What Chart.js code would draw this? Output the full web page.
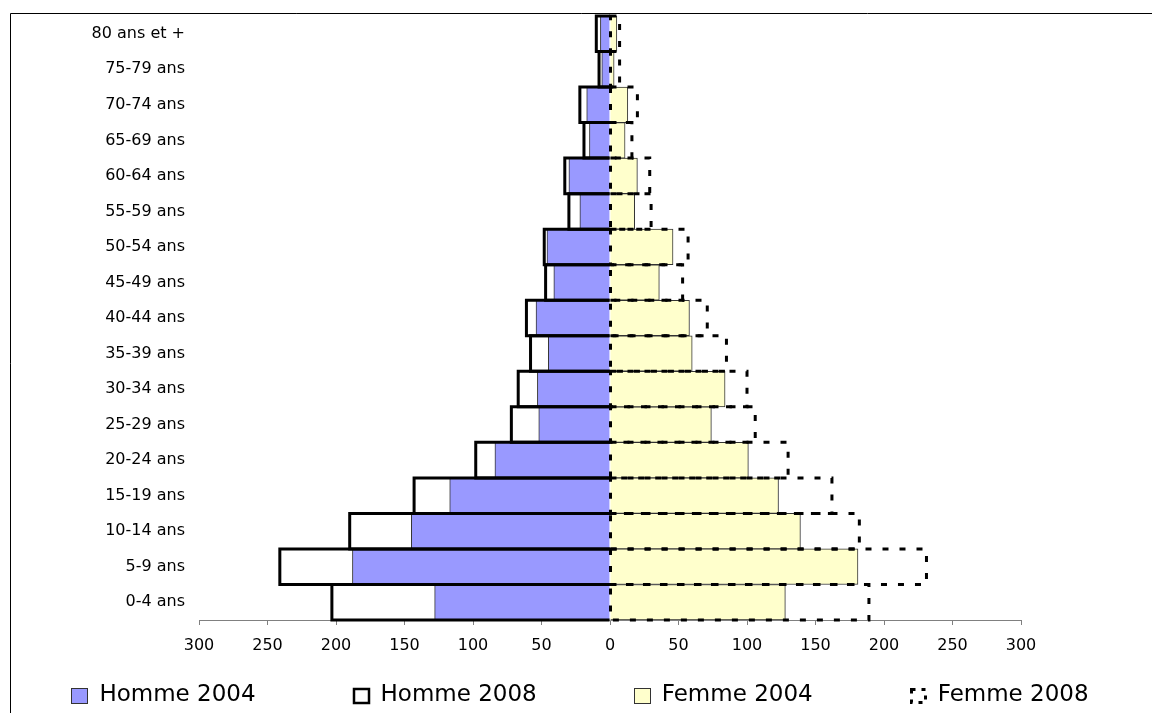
<!DOCTYPE html>
<html>
<head>
<meta charset="utf-8">
<script src="https://cdn.jsdelivr.net/npm/chart.js@4/dist/chart.umd.min.js"></script>
<style>
html,body{margin:0;padding:0;background:#fff;}
#wrap{width:1152px;height:713px;position:relative;}
</style>
</head>
<body>
<div id="wrap"><canvas id="c" width="1152" height="713"></canvas></div>
<script>
// ---- Data ----
const categories = ['0-4 ans','5-9 ans','10-14 ans','15-19 ans','20-24 ans','25-29 ans','30-34 ans','35-39 ans','40-44 ans','45-49 ans','50-54 ans','55-59 ans','60-64 ans','65-69 ans','70-74 ans','75-79 ans','80 ans et +'];
const homme2004 = [-128,-188,-145,-117,-84,-52,-53,-45,-54,-41,-46,-22,-30,-15,-17,-6,-7];
const homme2008 = [-203,-241,-190,-143,-98,-72,-67,-58,-61,-47,-48,-30,-33,-19,-22,-8,-10];
const femme2004 = [128,181,139,123,101,74,84,60,58,36,46,18,20,11,13,3,5];
const femme2008 = [189,231,182,162,130,106,100,85,71,53,57,30,29,16,20,7,7];
const seriesLabels = ['Homme 2004','Homme 2008','Femme 2004','Femme 2008'];
const xMin = -300, xMax = 300, xStep = 50;

const FONT = 'DejaVu Sans';

// styles for outlined (2008) series, drawn on top through the bar elements
const outlineStyles = {
  1: {color:'#000', width:3, dash:[], skipBase:true},
  3: {color:'#000', width:3, dash:[6,11], skipBase:false}
};

const outlinePlugin = {
  id:'outlines',
  afterDatasetsDraw(chart){
    const ctx = chart.ctx;
    Object.keys(outlineStyles).forEach(k => {
      const i = +k, st = outlineStyles[k];
      const meta = chart.getDatasetMeta(i);
      ctx.save();
      ctx.strokeStyle = st.color;
      ctx.lineWidth = st.width;
      ctx.setLineDash(st.dash);
      ctx.lineCap = 'butt';
      meta.data.forEach(el => {
        const p = el.getProps(['x','y','base','height'], true);
        const top = p.y - p.height/2, bot = p.y + p.height/2;
        ctx.beginPath();
        ctx.moveTo(p.base, top); ctx.lineTo(p.x, top); ctx.lineTo(p.x, bot); ctx.lineTo(p.base, bot);
        if (!st.skipBase) ctx.closePath();
        ctx.stroke();
      });
      ctx.restore();
    });
  }
};

const framePlugin = {
  id:'frame',
  beforeDraw(chart){
    const ctx = chart.ctx;
    ctx.save();
    ctx.fillStyle = '#fff';
    ctx.fillRect(0,0,chart.width,chart.height);
    ctx.strokeStyle = '#000';
    ctx.lineWidth = 1;
    ctx.beginPath();
    ctx.moveTo(10.5, chart.height + 2);
    ctx.lineTo(10.5, 13.5);
    ctx.lineTo(chart.width + 2, 13.5);
    ctx.stroke();
    ctx.restore();
  }
};

const legendPlugin = {
  id:'customLegend',
  afterDraw(chart){
    const ctx = chart.ctx;
    ctx.save();
    ctx.font = '23px "' + FONT + '"';
    ctx.textBaseline = 'middle';
    ctx.fillStyle = '#000';
    const box = 16, boxH = 15, textOff = 28, gap = 97, cy = 695, centerX = 580;
    const widths = seriesLabels.map(t => textOff + ctx.measureText(t).width);
    const total = widths.reduce((a,b)=>a+b,0) + gap*(seriesLabels.length-1);
    let x = centerX - total/2;
    seriesLabels.forEach((t,i) => {
      const bx = Math.round(x) + 0.5, by = Math.round(cy - boxH/2) + 0.5;
      ctx.save();
      if (i === 0) { ctx.fillStyle = '#9999FF'; ctx.fillRect(bx,by,box,boxH); ctx.strokeStyle='#333'; ctx.lineWidth=1; ctx.strokeRect(bx,by,box,boxH); }
      if (i === 1) { ctx.fillStyle = '#fff'; ctx.fillRect(bx,by,box,boxH); ctx.strokeStyle='#000'; ctx.lineWidth=2.5; ctx.strokeRect(bx+0.5,by+0.5,box-1,boxH-1); }
      if (i === 2) { ctx.fillStyle = '#FFFFCC'; ctx.fillRect(bx,by,box,boxH); ctx.strokeStyle='#333'; ctx.lineWidth=1; ctx.strokeRect(bx,by,box,boxH); }
      if (i === 3) { ctx.strokeStyle='#000'; ctx.lineWidth=3; ctx.setLineDash([4,6]); ctx.strokeRect(bx+1,by+1,box-2,boxH-2); }
      ctx.restore();
      ctx.fillText(t, x + textOff, cy);
      x += widths[i] + gap;
    });
    ctx.restore();
  }
};

const common = {barPercentage:1, categoryPercentage:1, grouped:false};

new Chart(document.getElementById('c'), {
  type:'bar',
  data:{
    labels: categories,
    datasets:[
      Object.assign({label:seriesLabels[0], data:homme2004, backgroundColor:'#9999FF', borderColor:'#333333', borderWidth:1}, common),
      Object.assign({label:seriesLabels[1], data:homme2008, backgroundColor:'rgba(0,0,0,0)', borderWidth:0}, common),
      Object.assign({label:seriesLabels[2], data:femme2004, backgroundColor:'#FFFFCC', borderColor:'#333333', borderWidth:1}, common),
      Object.assign({label:seriesLabels[3], data:femme2008, backgroundColor:'rgba(0,0,0,0)', borderWidth:0}, common)
    ]
  },
  options:{
    indexAxis:'y',
    responsive:false,
    animation:false,
    layout:{padding:{top:16, right:131, bottom:50, left:0}},
    plugins:{legend:{display:false}, tooltip:{enabled:false}},
    scales:{
      x:{
        min:xMin, max:xMax,
        ticks:{stepSize:xStep, callback:v => Math.abs(v), font:{family:FONT, size:16}, color:'#000', padding:11, maxRotation:0, autoSkip:false},
        grid:{drawOnChartArea:false, drawTicks:true, tickLength:5, color:'#808080'},
        border:{display:true, color:'#808080', width:1},
        afterFit:s => { s.height = 43; s.paddingLeft = 0; s.paddingRight = 0; }
      },
      y:{
        reverse:true,
        grid:{display:false, drawTicks:false},
        border:{display:false},
        ticks:{font:{family:FONT, size:16}, color:'#000', padding:14, autoSkip:false},
        afterFit:s => { s.width = 199; s.paddingTop = 0; s.paddingBottom = 0; }
      }
    }
  },
  plugins:[framePlugin, outlinePlugin, legendPlugin]
});
</script>
</body>
</html>
